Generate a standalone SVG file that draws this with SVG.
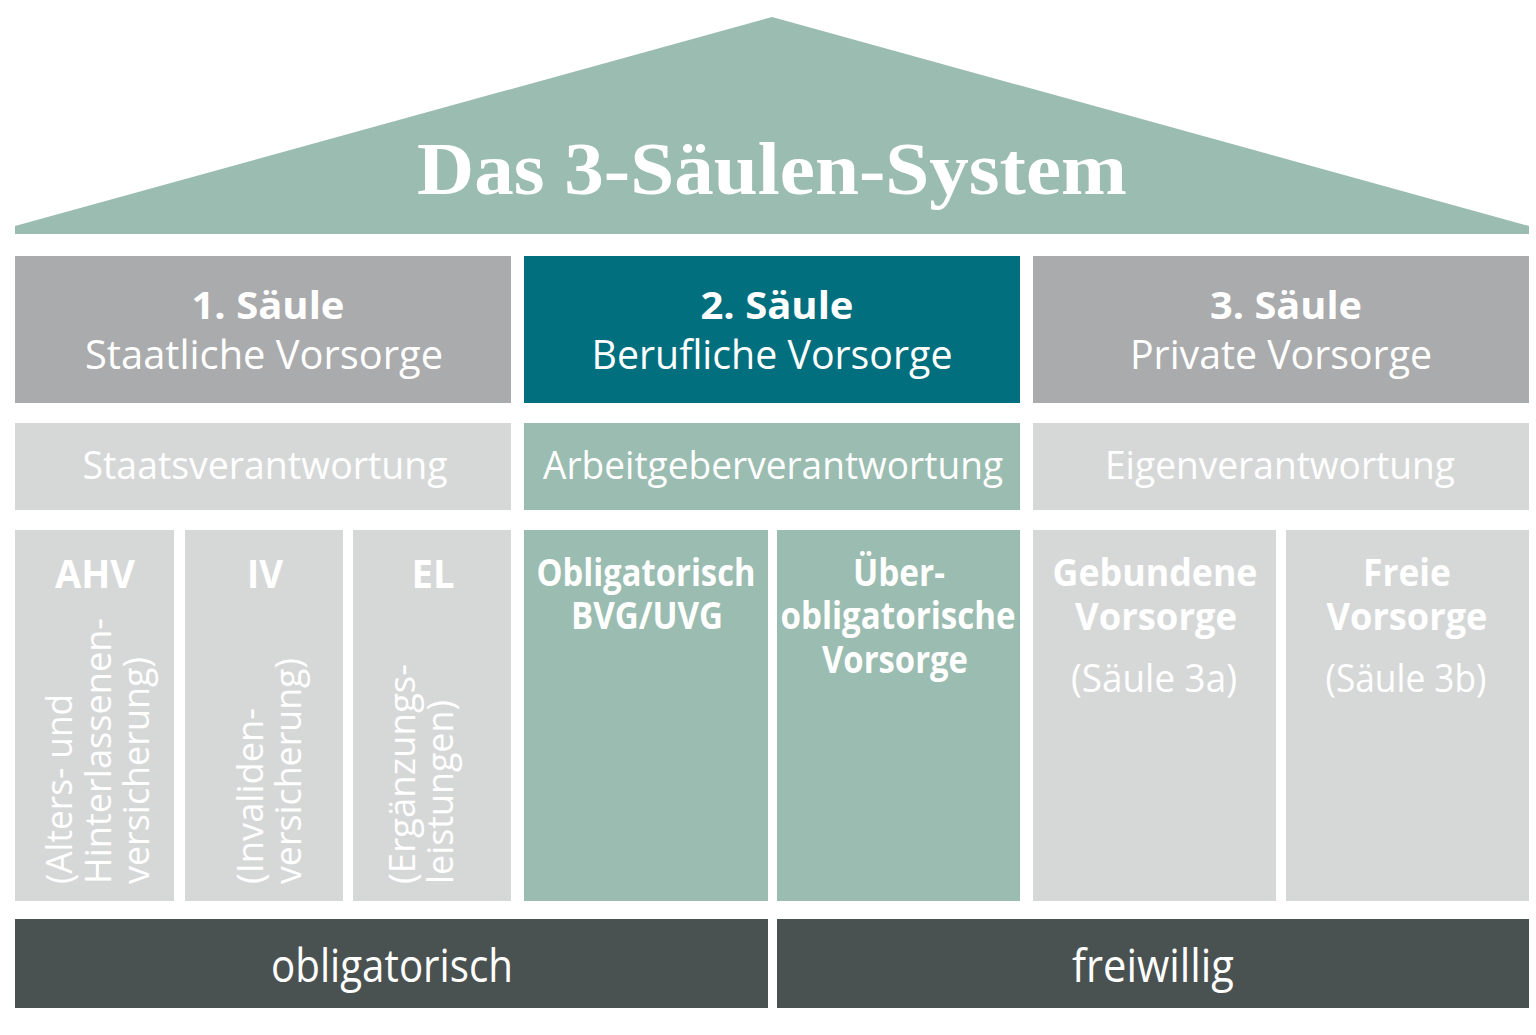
<svg xmlns="http://www.w3.org/2000/svg" width="1536" height="1035" viewBox="0 0 1536 1035">
<style>
.t{fill:#ffffff;font-family:"Open Sans","Noto Sans","Liberation Sans",sans-serif;text-anchor:middle}
.b{font-weight:700}
.r{font-weight:400}
.v{fill:#ffffff;font-family:"Open Sans","Noto Sans","Liberation Sans",sans-serif;font-weight:400;font-size:37px}
.gray{fill:#aaabad}
.teal{fill:#016f7e}
.light{fill:#d6d8d8}
.green{fill:#9bbcb0}
.dark{fill:#4a5251}
</style>
<rect width="1536" height="1035" fill="#ffffff"/>
<g id="roof">
<polygon class="green" points="15,226 772,17 1529,226 1529,234 15,234"/>
<text x="772" y="194" font-family="'Liberation Serif',serif" font-weight="700" font-size="75" fill="#ffffff" text-anchor="middle" textLength="710" lengthAdjust="spacingAndGlyphs">Das 3-Säulen-System</text>
</g>
<g id="saeule1">
<rect class="gray" x="15" y="256" width="496" height="147"/>
<text class="t b" x="268" y="319" font-size="37" textLength="153" lengthAdjust="spacingAndGlyphs">1. Säule</text>
<text class="t r" x="264" y="369" font-size="40" textLength="358" lengthAdjust="spacingAndGlyphs">Staatliche Vorsorge</text>
</g>
<g id="saeule2">
<rect class="teal" x="524" y="256" width="496" height="147"/>
<text class="t b" x="777" y="319" font-size="37" textLength="153" lengthAdjust="spacingAndGlyphs">2. Säule</text>
<text class="t r" x="772" y="369" font-size="40" textLength="361" lengthAdjust="spacingAndGlyphs">Berufliche Vorsorge</text>
</g>
<g id="saeule3">
<rect class="gray" x="1033" y="256" width="496" height="147"/>
<text class="t b" x="1286" y="319" font-size="37" textLength="152" lengthAdjust="spacingAndGlyphs">3. Säule</text>
<text class="t r" x="1281" y="369" font-size="40" textLength="302" lengthAdjust="spacingAndGlyphs">Private Vorsorge</text>
</g>
<g id="staatsverantwortung">
<rect class="light" x="15" y="423" width="496" height="87"/>
<text class="t r" x="265" y="479" font-size="38" textLength="365" lengthAdjust="spacingAndGlyphs">Staatsverantwortung</text>
</g>
<g id="arbeitgeberverantwortung">
<rect class="green" x="524" y="423" width="496" height="87"/>
<text class="t r" x="773" y="479" font-size="38" textLength="460" lengthAdjust="spacingAndGlyphs">Arbeitgeberverantwortung</text>
</g>
<g id="eigenverantwortung">
<rect class="light" x="1033" y="423" width="496" height="87"/>
<text class="t r" x="1280" y="479" font-size="38" textLength="350" lengthAdjust="spacingAndGlyphs">Eigenverantwortung</text>
</g>
<g id="ahv">
<rect class="light" x="15" y="530" width="159" height="371"/>
<text class="t b" x="95" y="588" font-size="39" textLength="80" lengthAdjust="spacingAndGlyphs">AHV</text>
<text class="v" transform="translate(72,884) rotate(-90)" textLength="190" lengthAdjust="spacingAndGlyphs">(Alters- und</text>
<text class="v" transform="translate(111,884) rotate(-90)" textLength="266" lengthAdjust="spacingAndGlyphs">Hinterlassenen-</text>
<text class="v" transform="translate(149,884) rotate(-90)" textLength="227" lengthAdjust="spacingAndGlyphs">versicherung)</text>
</g>
<g id="iv">
<rect class="light" x="185" y="530" width="158" height="371"/>
<text class="t b" x="265" y="588" font-size="39" textLength="36" lengthAdjust="spacingAndGlyphs">IV</text>
<text class="v" transform="translate(263,884) rotate(-90)" textLength="176" lengthAdjust="spacingAndGlyphs">(Invaliden-</text>
<text class="v" transform="translate(301,884) rotate(-90)" textLength="226" lengthAdjust="spacingAndGlyphs">versicherung)</text>
</g>
<g id="el">
<rect class="light" x="353" y="530" width="158" height="371"/>
<text class="t b" x="433" y="588" font-size="39" textLength="43" lengthAdjust="spacingAndGlyphs">EL</text>
<text class="v" transform="translate(415,884) rotate(-90)" textLength="220" lengthAdjust="spacingAndGlyphs">(Ergänzungs-</text>
<text class="v" transform="translate(453,884) rotate(-90)" textLength="184" lengthAdjust="spacingAndGlyphs">leistungen)</text>
</g>
<g id="obligatorisch-bvg">
<rect class="green" x="524" y="530" width="244" height="371"/>
<text class="t b" x="646" y="586" font-size="38" textLength="219" lengthAdjust="spacingAndGlyphs">Obligatorisch</text>
<text class="t b" x="647" y="629" font-size="38" textLength="152" lengthAdjust="spacingAndGlyphs">BVG/UVG</text>
</g>
<g id="ueberobligatorisch">
<rect class="green" x="777" y="530" width="243" height="371"/>
<text class="t b" x="899" y="586" font-size="38" textLength="92" lengthAdjust="spacingAndGlyphs">Über-</text>
<text class="t b" x="898" y="629" font-size="38" textLength="235" lengthAdjust="spacingAndGlyphs">obligatorische</text>
<text class="t b" x="895" y="673" font-size="38" textLength="146" lengthAdjust="spacingAndGlyphs">Vorsorge</text>
</g>
<g id="gebundene-vorsorge">
<rect class="light" x="1033" y="530" width="243" height="371"/>
<text class="t b" x="1155" y="586" font-size="38" textLength="205" lengthAdjust="spacingAndGlyphs">Gebundene</text>
<text class="t b" x="1156" y="630" font-size="38" textLength="162" lengthAdjust="spacingAndGlyphs">Vorsorge</text>
<text class="t r" x="1154" y="692" font-size="38" textLength="166" lengthAdjust="spacingAndGlyphs">(Säule 3a)</text>
</g>
<g id="freie-vorsorge">
<rect class="light" x="1286" y="530" width="243" height="371"/>
<text class="t b" x="1407" y="586" font-size="38" textLength="88" lengthAdjust="spacingAndGlyphs">Freie</text>
<text class="t b" x="1407" y="630" font-size="38" textLength="161" lengthAdjust="spacingAndGlyphs">Vorsorge</text>
<text class="t r" x="1406" y="692" font-size="38" textLength="161" lengthAdjust="spacingAndGlyphs">(Säule 3b)</text>
</g>
<g id="obligatorisch">
<rect class="dark" x="15" y="919" width="753" height="89"/>
<text class="t r" x="392" y="982" font-size="45" textLength="242" lengthAdjust="spacingAndGlyphs">obligatorisch</text>
</g>
<g id="freiwillig">
<rect class="dark" x="777" y="919" width="752" height="89"/>
<text class="t r" x="1153" y="982" font-size="45" textLength="162" lengthAdjust="spacingAndGlyphs">freiwillig</text>
</g>
<g id="connectors"/>
</svg>
